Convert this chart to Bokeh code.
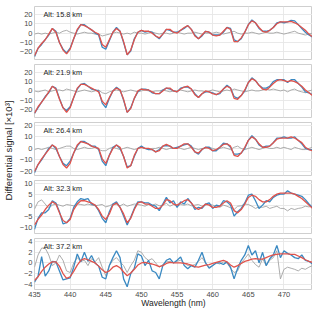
import math
from bokeh.plotting import figure
from bokeh.models import (Range1d, FixedTicker, Label, Legend, LegendItem,
                          ColumnDataSource, CustomJSTickFormatter)
from bokeh.layouts import row, column
from bokeh.embed import file_html
from bokeh.resources import INLINE
from bokeh.core.properties import value

# ---------------- data ----------------
wavelength = [435 + 0.5 * i for i in range(79)]

alt_labels = ["Alt: 15.8 km", "Alt: 21.9 km", "Alt: 26.4 km", "Alt: 32.3 km", "Alt: 37.2 km"]
x_ticks = [435, 440, 445, 450, 455, 460, 465, 470]
y_ticks = [[-20, -10, 0, 10, 20], [-20, -10, 0, 10, 20], [-20, -10, 0, 10, 20],
           [-10, -5, 0, 5, 10], [-4, -2, 0, 2, 4]]
y_limits = [(-28.0, 28.3), (-28.5, 28.3), (-23.5, 22.5), (-12.9, 11.2), (-5.0, 4.6)]

fitted_1 = [
    -24, -16, -11, -7, -1, 5, 1, -10, -18, -22,
    -17, -6, 4, 9, 8, 6, 3.5, 1, -1, -12,
    -15, -7, 1, 5, 2, -9, -23, -18, -7, 1,
    3, 2, 2, 0, -3, -5, -1, 4, 4, 1,
    0, 3, 6, 8, 4, -3, -6, -2, 2, 1,
    -2, -3, -2, 2, 6, 4, -9, -9, -5, 1,
    9, 13, 11, 6, 2, 1, 3, 6, 10, 12,
    12, 12, 12.5, 11, 9, 6, 3, -1, -4]
measured_1 = [
    -25, -16, -12, -7, -2, 5, 2, -10, -17, -21,
    -16, -6, 3, 9, 9, 6, 3.5, 0, -2, -15,
    -17, -8, 1, 6, 2, -10, -23, -19, -6, 1,
    3, 1, 2, 1, -3, -6, -1, 4, 3, 1,
    1, 3, 5, 8, 4, -2, -6, -3, 2, 1,
    -2, -2, -2, 1, 6, 5, -7, -9, -6, 1,
    9, 14, 11, 5, 2, 2, 3, 6, 11, 12,
    11, 12, 13.5, 13, 9, 5, 1, -2, -4]
residual_1 = [
    -1, 0, -1, 0, -1, 0, 1, 0, 2, 3,
    1, 0, -1, 0, 1, 0, 0, -1, -1, -3,
    -2, -1, 0, 1, 0, -1, 0, -1, 1, 0,
    0, -1, 0, 1, 0, -1, 0, 0, -1, 0,
    1, 0, -1, 0, 0, 1, 0, -1, 0, 0,
    0, 1, 0, -1, 0, 1, 2, 0, -1, 0,
    0, 1, 0, -1, 0, 1, 0, 0, 1, 0,
    -1, 0, 1, 2, 0, -1, -2, -1, 0]

fitted_2 = [
    -24, -17, -12, -7, -1, 5, 2, -9, -18, -23,
    -18, -7, 3, 7, 7, 5, 3, 1, -1, -11,
    -15, -7, 0, 3, 1, -9, -23, -19, -8, 0,
    2, 1, 1, -1, -3, -3, 0, 3, 3, 0,
    -1, 2, 4, 5, 2, -4, -7, -3, 0, -1,
    -3, -4, -2, 2, 5, 3, -8, -9, -5, 1,
    9, 13, 11, 6, 2, 1, 4, 8, 11, 12,
    11, 10, 11, 10, 8, 5, 1, -2, -5]
measured_2 = [
    -24, -18, -12, -6, -2, 5, 3, -8, -18, -21,
    -17, -7, 2, 7, 8, 5, 2, 1, 0, -13,
    -18, -8, 0, 4, 1, -10, -23, -18, -8, -1,
    2, 2, 1, -2, -3, -3, 1, 3, 2, 0,
    -1, 3, 4, 4, 2, -3, -7, -3, -1, -1,
    -2, -4, -3, 2, 6, 3, -6, -8, -5, 0,
    9, 14, 11, 6, 3, 3, 5, 10, 12, 12,
    12, 9, 12, 12, 8, 4, -1, -2, -4]
residual_2 = [
    0, -1, 0, 1, -1, 0, 1, 1, 0, 2,
    1, 0, -1, 0, 1, 0, -1, 0, 1, -2,
    -3, -1, 0, 1, 0, -1, 0, 1, 0, -1,
    0, 1, 0, -1, 0, 0, 1, 0, -1, 0,
    0, 1, 0, -1, 0, 1, 0, 0, -1, 0,
    1, 0, -1, 0, 1, 0, 2, 1, 0, -1,
    0, 1, 0, 0, 1, 2, 1, 2, 1, 0,
    1, -1, 1, 2, 0, -1, -2, 0, 1]

fitted_3 = [
    -20, -14, -9, -5, -1, 3, 1, -7, -14, -17,
    -13, -4, 3, 6, 5, 4, 2, 1, 0, -9,
    -13, -6, 0, 3, 1, -7, -17, -15, -6, 0,
    1, 0, 0, -1, -3, -2, 2, 3.5, 2, 0,
    0, 2, 4, 4, 1, -3, -4, -1, 1, 0,
    -2, -1, 1, 3.5, 4, 2, -6, -7, -4, 1,
    7, 10, 8, 4, 1, 1, 2, 5, 8, 9,
    9, 9, 10, 9, 7, 5, 1, -1, -2]
measured_3 = [
    -21, -14, -10, -5, 0, 3, 0, -7, -13, -15,
    -11, -4, 2, 6, 6, 4, 2, 2, -1, -11,
    -15, -6, 1, 3, 0, -7, -16, -15, -7, 0,
    2, 0, -1, -1, -3, -1, 2, 2.5, 2, 0,
    1, 2, 3, 4, 2, -3, -5, -1, 1, 1,
    -2, -2, 1, 4.5, 4, 1, -5, -5, -4, 0,
    7, 11, 8, 3, 1, 2, 2, 5, 9, 9,
    10, 9, 9, 10, 7, 4, 0, -1, -1]
residual_3 = [
    -1, 0, -1, 0, 1, 0, -1, 0, 1, 2,
    2, 0, -1, 0, 1, 0, 0, 1, -1, -2,
    -2, 0, 1, 0, -1, 0, 1, 0, -1, 0,
    1, 0, -1, 0, 0, 1, 0, -1, 0, 0,
    1, 0, -1, 0, 1, 0, -1, 0, 0, 1,
    0, -1, 0, 1, 0, -1, 1, 2, 0, -1,
    0, 1, 0, -1, 0, 1, 0, 0, 1, 0,
    1, 0, -1, 1, 0, -1, -1, 0, 1]

fitted_4 = [
    -9, -6.5, -4.5, -2, 0, 1.5, 0.5, -3.5, -7, -8,
    -6.5, -2, 0.5, 2, 2, 1.5, 1, 0, -2, -5,
    -6.5, -4, 0, 1, -1, -4, -8, -6, -2, 1,
    1.5, 0.5, 0.5, -0.5, -1.5, -1.5, 0, 2.5, 2, 0.5,
    0, 1, 2, 2.5, 1, -1, -2, -1, 0.5, 0,
    -1, -1, -0.5, 1, 2, 1, -2.5, -3.5, -2, 0.5,
    3.5, 4.5, 4, 2.5, 1.5, 1.5, 2.5, 4, 5, 5.5,
    5.5, 5.5, 5.5, 5, 4, 3, 1.5, 0, -1.5]
measured_4 = [
    -11, -6, -3.5, -3.5, -2, 2, 1, -3, -8.5, -8,
    -6, -1, 1.5, 3, 2.5, 3, 0.5, 0, -2.5, -6,
    -8, -3, 0.5, 1.5, -1, -5, -9, -5.5, -1.5, 1.5,
    1.5, 1, 1, 0, -0.5, -2.5, 0.5, 3.5, 1, 2,
    -1, 1.5, 0.5, 3, 1, -2, -1, -1.5, 0.5, 1,
    -1.5, 0, -0.5, 2, 1.5, 0, -5, -3, -1.5, 1,
    4.5, 5, 2, -1.5, 0, 2, 1.5, 3.5, 4.5, 5,
    5, 6.5, 5.5, 5, 4.5, 4, 2.5, 0.5, -1]
residual_4 = [
    -1.8, 1.5, 2.4, 0.5, -1.4, 0, 0.5, 0, -0.5, 0.3,
    0, -0.3, 0.5, 0.3, 0, 0.5, 0, -0.3, 0, 0.3,
    -0.8, -0.3, 0.5, 0.3, -0.3, 0.5, -0.5, 0, 0.5, 0.3,
    0, -0.5, 0.3, 0, 0.5, -0.3, 0, 0.8, -0.5, 0.3,
    -0.5, 0.3, 0, 0.5, -0.3, 0, 0.3, -0.5, 0, 0.5,
    0, -0.5, -1, 0, -0.5, -1.2, -2, -0.5, -0.3, 0.5,
    0.3, -0.5, -1.5, -0.8, -1, -0.5, -1.5, -1, -0.5, -1.5,
    -1.5, -2.6, -1.5, -2, -1.5, -1.2, -0.5, -0.8, -0.5]

fitted_5 = [
    -3.3, -2.6, -1.6, -0.8, -0.2, 0.2, 0.2, -0.6, -2, -2.9,
    -2.6, -1.6, -0.4, 0.5, 0.8, 0.6, 0.3, 0, -0.6, -1.3,
    -1.8, -1.5, -0.8, -0.5, -0.9, -1.7, -2.4, -1.9, -1.2, -0.4,
    0, 0.1, -0.1, -0.2, -0.4, -0.7, -0.5, -0.1, 0.1, 0,
    0, 0, -0.1, -0.2, -0.4, -0.7, -0.8, -0.6, -0.4, -0.3,
    -0.1, 0.1, 0.3, 0.5, 0.2, -0.4, -0.8, -0.5, -0.1, 0.3,
    0.5, 0.7, 0.8, 0.7, 0.7, 1, 1.3, 1.5, 1.6, 1.7,
    1.7, 1.7, 1.6, 1.6, 1.3, 1, 0.6, 0.3, 0.1]
measured_5 = [
    -3.6, -2.5, 1.2, -2.5, -1.5, 0.3, 0.2, -1.5, -3.2, -3.0,
    -2.8, -0.8, 1.7, 0.2, 2.0, 0.3, 1.4, 0.0, -0.6, -2.7,
    -3.0, -0.5, 1.0, 2.3, 1.0, -3.0, -4.5, -2.0, -1.0, 1.7,
    1.3, -0.5, 0.5, -1.5, -1.8, -3.0, -0.5, 0.5, 0.8, 0.0,
    0.5, 1.1, -0.5, -1.1, -0.5, -0.8, 0.5, 2.0, 0.0, -1.0,
    -0.5, 0.0, 0.0, -0.3, 0.2, -0.8, -3.0, -1.0, 0.5, 1.5,
    3.3, 1.5, 2.3, 0.0, 2.0, -0.5, 0.8, 1.5, 3.3, 1.0,
    2.3, 1.8, 1.5, 1.0, 0.8, 1.5, 0.5, 0.3, -0.2]
residual_5 = [
    -0.8, 1.5, 2.8, 2.8, 1.5, -0.5, 0, 1.5, 0.5, -1.5,
    -1.8, 0, 1.0, 0.3, 0.5, -0.5, 0.8, 0.2, 1.0, -0.8,
    -2.4, -0.5, 0.5, 1.0, 0.2, -0.5, -1.8, -0.5, 0.5, 2.3,
    2.0, 1.0, 0.5, 0.8, 0.0, -0.8, -0.3, 0.2, 0.3, 0.0,
    0.3, 0.5, 0.0, -0.5, -0.5, -0.3, 0.3, 1.0, 0.0, -0.8,
    -0.5, 0.0, -0.2, 0.2, 0.0, -1.0, -1.8, -1.5, 0.0, 0.8,
    1.7, 0.5, -0.3, -0.8, 0.8, -0.5, 0.5, 1.0, 2.3, -3.0,
    -1.2, -0.8, -1.0, -1.2, -1.5, -1.0, -1.2, -0.8, -0.5]

measured = [measured_1, measured_2, measured_3, measured_4, measured_5]
fitted = [fitted_1, fitted_2, fitted_3, fitted_4, fitted_5]
residual = [residual_1, residual_2, residual_3, residual_4, residual_5]

# ---------------- style ----------------
FONT = "Liberation Sans"
BLUE = "#3a89c2"
RED = "#e0524b"
GRAY = "#a3a3a3"
GRID = "#e6e6e6"
SPINE = "#cfcfcf"
TICKCOL = "#4a4a4a"

heights = [62, 58, 58, 58, 82]
tops = [6, 2, 2, 2, 2]
bottoms = [3, 3, 3, 3, 29]

minus_fmt = "return tick < 0 ? '\u2212' + Math.abs(tick) : '' + tick;"

panels = []
for i in range(5):
    last = (i == 4)
    p = figure(width=296, height=heights[i],
               x_range=Range1d(435, 474), y_range=Range1d(*y_limits[i]),
               output_backend="svg", toolbar_location=None,
               min_border_left=15, min_border_right=0,
               min_border_top=tops[i], min_border_bottom=bottoms[i],
               x_axis_location="below" if last else None)
    p.outline_line_color = SPINE
    p.outline_line_width = 1
    p.background_fill_color = "white"
    p.border_fill_color = "white"

    p.xgrid.ticker = FixedTicker(ticks=x_ticks)
    p.ygrid.ticker = FixedTicker(ticks=y_ticks[i])
    p.xgrid.grid_line_color = GRID
    p.ygrid.grid_line_color = GRID
    p.xgrid.grid_line_width = 0.9
    p.ygrid.grid_line_width = 0.9

    p.yaxis.ticker = FixedTicker(ticks=y_ticks[i])
    p.yaxis.formatter = CustomJSTickFormatter(code=minus_fmt)
    p.yaxis.axis_line_color = None
    p.yaxis.major_tick_line_color = None
    p.yaxis.minor_tick_line_color = None
    p.yaxis.major_tick_out = 0
    p.yaxis.major_tick_in = 0
    p.yaxis.major_label_standoff = 2
    p.yaxis.major_label_text_font = FONT
    p.yaxis.major_label_text_font_size = "7.5px"
    p.yaxis.major_label_text_color = TICKCOL

    if last:
        p.xaxis.ticker = FixedTicker(ticks=x_ticks)
        p.xaxis.axis_line_color = None
        p.xaxis.major_tick_line_color = None
        p.xaxis.minor_tick_line_color = None
        p.xaxis.major_tick_out = 0
        p.xaxis.major_tick_in = 0
        p.xaxis.major_label_standoff = 2
        p.xaxis.major_label_text_font = FONT
        p.xaxis.major_label_text_font_size = "7.5px"
        p.xaxis.major_label_text_color = TICKCOL
        p.xaxis.axis_label = "Wavelength (nm)"
        p.xaxis.axis_label_text_font = FONT
        p.xaxis.axis_label_text_font_size = "8.5px"
        p.xaxis.axis_label_text_font_style = "normal"
        p.xaxis.axis_label_text_color = "#222222"
        p.xaxis.axis_label_standoff = -2

    src = ColumnDataSource(dict(wavelength=wavelength, measured=measured[i],
                                fitted=fitted[i], residual=residual[i]))
    r_res = p.line("wavelength", "residual", source=src, line_color=GRAY, line_width=0.9)
    r_meas = p.line("wavelength", "measured", source=src, line_color=BLUE, line_width=1.3)
    r_fit = p.line("wavelength", "fitted", source=src, line_color=RED, line_width=1.3)

    frame_h = heights[i] - tops[i] - bottoms[i]
    p.add_layout(Label(x=9, y=frame_h - 8, x_units="screen", y_units="screen",
                       text=alt_labels[i], text_font=FONT, text_font_size="7.3px",
                       text_baseline="middle", text_color="#222222"))

    if last:
        legend = Legend(items=[LegendItem(label="Measured", renderers=[r_meas]),
                               LegendItem(label="Fitted", renderers=[r_fit]),
                               LegendItem(label="Residual", renderers=[r_res])],
                        location=(62, -44), orientation="horizontal",
                        border_line_color=SPINE, background_fill_color="white",
                        background_fill_alpha=1.0, label_text_font=FONT,
                        label_text_font_size="7.5px", glyph_width=10, glyph_height=9,
                        label_height=9, padding=4, spacing=22, margin=0,
                        label_standoff=4)
        p.add_layout(legend)
    panels.append(p)

ylab = figure(width=16, height=318, x_range=Range1d(-1, 1), y_range=Range1d(-1, 1),
              output_backend="svg", toolbar_location=None,
              min_border_left=0, min_border_right=0, min_border_top=0, min_border_bottom=18,
              x_axis_location=None, y_axis_location=None)
ylab.grid.visible = False
ylab.outline_line_color = None
ylab.border_fill_color = "white"
ylab.text(x=[0.0], y=[0.0], text=["Differential signal [×10³]"], angle=math.pi / 2,
          text_align="center", text_baseline="middle", text_font=value(FONT),
          text_font_size="9.5px", text_color="#222222")

layout = row(ylab, column(*panels))
open("out.html", "w").write(file_html(layout, INLINE))
